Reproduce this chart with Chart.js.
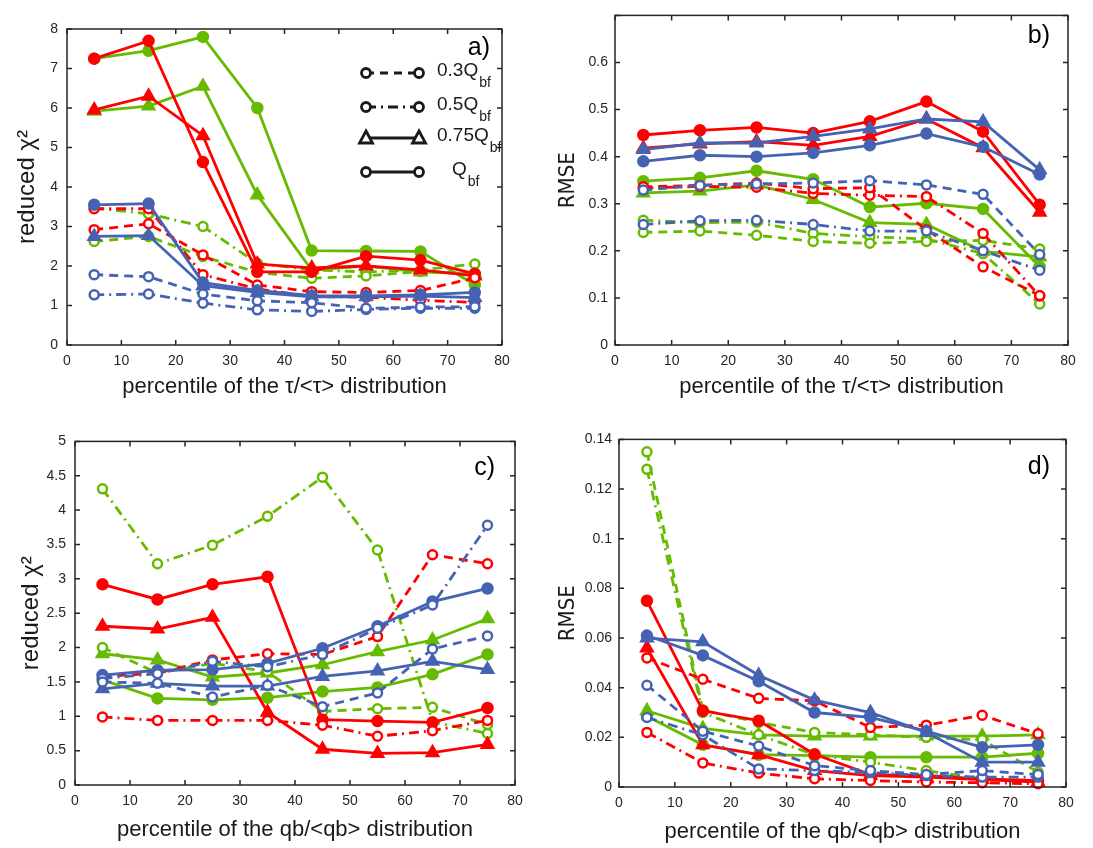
<!DOCTYPE html>
<html>
<head>
<meta charset="utf-8">
<script src="https://cdn.jsdelivr.net/npm/chart.js@4"></script>
<style>
  html, body { margin: 0; padding: 0; background: #fff; }
  #page { position: relative; width: 1093px; height: 848px; overflow: hidden; }
  .panel { position: absolute; }
</style>
</head>
<body>
<div id="page">
  <div class="panel" style="left:0;top:0;width:546px;height:424px"><canvas id="chartA"></canvas></div>
  <div class="panel" style="left:546px;top:0;width:547px;height:424px"><canvas id="chartB"></canvas></div>
  <div class="panel" style="left:0;top:424px;width:546px;height:424px"><canvas id="chartC"></canvas></div>
  <div class="panel" style="left:546px;top:424px;width:547px;height:424px"><canvas id="chartD"></canvas></div>
</div>
<script>
// === Data ===
const X_PCT = [5, 15, 25, 35, 45, 55, 65, 75];
const CASES = ['0.3Q', '0.5Q', '0.75Q', 'Q'];   // rows of every array below

// a) reduced chi2 vs percentile of tau/<tau>
const aRed = [
    [2.92, 3.07, 2.28, 1.52, 1.35, 1.33, 1.38, 1.70],
    [3.45, 3.45, 1.78, 1.42, 1.23, 1.21, 1.13, 1.08],
    [5.95, 6.30, 5.30, 2.05, 1.95, 2.00, 1.90, 1.75],
    [7.25, 7.70, 4.63, 1.85, 1.85, 2.25, 2.15, 1.80]
];
const aBlue = [
    [1.78, 1.73, 1.29, 1.12, 1.07, 0.93, 0.96, 0.97],
    [1.27, 1.29, 1.06, 0.89, 0.85, 0.90, 0.93, 0.93],
    [2.75, 2.77, 1.50, 1.33, 1.22, 1.22, 1.24, 1.20],
    [3.55, 3.58, 1.58, 1.38, 1.25, 1.24, 1.27, 1.33]
];
const aGreen = [
    [2.62, 2.75, 2.24, 1.84, 1.69, 1.75, 1.86, 1.82],
    [3.47, 3.32, 3.00, 2.07, 1.90, 1.85, 1.90, 2.05],
    [5.92, 6.05, 6.55, 3.80, 1.90, 2.00, 1.85, 1.80],
    [7.25, 7.45, 7.80, 6.00, 2.39, 2.38, 2.37, 1.52]
];

// b) RMSE vs percentile of tau/<tau>
const bRed = [
    [0.336, 0.339, 0.344, 0.332, 0.334, 0.245, 0.166, 0.105],
    [0.333, 0.337, 0.335, 0.322, 0.318, 0.315, 0.237, 0.104],
    [0.418, 0.427, 0.432, 0.424, 0.443, 0.480, 0.419, 0.282],
    [0.446, 0.456, 0.462, 0.450, 0.475, 0.517, 0.453, 0.298]
];
const bBlue = [
    [0.329, 0.339, 0.342, 0.344, 0.349, 0.340, 0.320, 0.192],
    [0.256, 0.264, 0.265, 0.256, 0.242, 0.242, 0.200, 0.159],
    [0.415, 0.429, 0.429, 0.443, 0.459, 0.480, 0.474, 0.372],
    [0.390, 0.403, 0.400, 0.408, 0.424, 0.449, 0.421, 0.362]
];
const bGreen = [
    [0.239, 0.242, 0.233, 0.220, 0.216, 0.220, 0.222, 0.204],
    [0.265, 0.260, 0.261, 0.237, 0.230, 0.225, 0.194, 0.087],
    [0.323, 0.327, 0.340, 0.309, 0.260, 0.256, 0.199, 0.187],
    [0.348, 0.355, 0.370, 0.352, 0.293, 0.301, 0.289, 0.166]
];

// c) reduced chi2 vs percentile of qb/<qb>
const cRed = [
    [1.58, 1.63, 1.82, 1.91, 1.90, 2.16, 3.35, 3.22],
    [0.99, 0.94, 0.94, 0.94, 0.87, 0.71, 0.79, 0.94],
    [2.31, 2.27, 2.44, 1.06, 0.52, 0.46, 0.47, 0.59],
    [2.92, 2.70, 2.92, 3.03, 0.95, 0.93, 0.91, 1.12]
];
const cBlue = [
    [1.50, 1.48, 1.28, 1.45, 1.14, 1.34, 1.98, 2.17],
    [1.55, 1.62, 1.80, 1.72, 1.90, 2.28, 2.62, 3.78],
    [1.40, 1.48, 1.44, 1.44, 1.58, 1.66, 1.80, 1.68],
    [1.60, 1.67, 1.68, 1.77, 1.99, 2.31, 2.67, 2.86]
];
const cGreen = [
    [2.00, 1.63, 1.77, 1.65, 1.07, 1.11, 1.13, 0.88],
    [4.31, 3.22, 3.49, 3.91, 4.48, 3.42, 0.92, 0.75],
    [1.91, 1.82, 1.57, 1.63, 1.75, 1.94, 2.11, 2.42],
    [1.53, 1.26, 1.24, 1.27, 1.36, 1.42, 1.61, 1.90]
];

// d) RMSE vs percentile of qb/<qb>
const dRed = [
    [0.052, 0.0434, 0.0357, 0.0347, 0.024, 0.0249, 0.0289, 0.0214],
    [0.022, 0.0097, 0.0056, 0.0033, 0.0026, 0.002, 0.0017, 0.0013],
    [0.056, 0.017, 0.013, 0.0066, 0.0046, 0.004, 0.003, 0.002],
    [0.075, 0.0307, 0.0267, 0.0132, 0.005, 0.0046, 0.0033, 0.0026]
];
const dBlue = [
    [0.041, 0.0225, 0.0165, 0.0086, 0.0066, 0.005, 0.0066, 0.005],
    [0.028, 0.021, 0.0073, 0.0066, 0.0058, 0.0046, 0.004, 0.004],
    [0.060, 0.0585, 0.045, 0.035, 0.030, 0.022, 0.010, 0.010],
    [0.061, 0.053, 0.0426, 0.030, 0.028, 0.0225, 0.016, 0.017]
];
const dGreen = [
    [0.135, 0.031, 0.026, 0.022, 0.021, 0.020, 0.019, 0.006],
    [0.128, 0.030, 0.021, 0.013, 0.010, 0.0066, 0.0033, 0.0026],
    [0.0307, 0.0236, 0.021, 0.0205, 0.0205, 0.0205, 0.0205, 0.021],
    [0.0285, 0.017, 0.013, 0.0126, 0.012, 0.012, 0.012, 0.0136]
];

// === Styles ===
const RED = '#ff0000';
const BLUE = '#4563b2';
const GREEN = '#66bb00';
const AXIS = '#262626';
const FONT = '"Liberation Sans", Arial, Helvetica, sans-serif';
const NARROW = '"Liberation Sans Narrow", "DejaVu Sans Condensed", "Liberation Sans", Arial, sans-serif';

const CASE_STYLE = [
    { dash: [9, 6], point: 'circle', filled: false, r: 4.5 },
    { dash: [10, 5, 2, 5], point: 'circle', filled: false, r: 4.5 },
    { dash: [], point: 'triangle', filled: true, r: 6.5 },
    { dash: [], point: 'circle', filled: true, r: 5 }
];

function buildDatasets(groups) {
    const sets = [];
    groups.forEach(([rows, color]) => {
        rows.forEach((ys, i) => {
            const st = CASE_STYLE[i];
            sets.push({
                label: CASES[i],
                data: ys.map((y, j) => ({ x: X_PCT[j], y })),
                borderColor: color,
                backgroundColor: color,
                pointBorderColor: color,
                pointBackgroundColor: st.filled ? color : '#ffffff',
                pointStyle: st.point,
                pointRadius: st.r,
                pointBorderWidth: 2.5,
                borderWidth: 2.8,
                borderDash: st.dash,
                tension: 0,
                clip: false
            });
        });
    });
    return sets;
}

// box + inward ticks + panel letter
const boxPlugin = {
    id: 'matlabBox',
    afterDraw(chart, args, opts) {
        const { ctx, chartArea: a, scales: { x, y } } = chart;
        ctx.save();
        ctx.strokeStyle = AXIS;
        ctx.lineWidth = 1.5;
        ctx.strokeRect(a.left, a.top, a.right - a.left, a.bottom - a.top);
        ctx.beginPath();
        x.ticks.forEach(t => {
            const px = x.getPixelForValue(t.value);
            ctx.moveTo(px, a.bottom); ctx.lineTo(px, a.bottom - 5);
            ctx.moveTo(px, a.top); ctx.lineTo(px, a.top + 5);
        });
        y.ticks.forEach(t => {
            const py = y.getPixelForValue(t.value);
            ctx.moveTo(a.left, py); ctx.lineTo(a.left + 5, py);
            ctx.moveTo(a.right, py); ctx.lineTo(a.right - 5, py);
        });
        ctx.stroke();
        ctx.fillStyle = '#000';
        ctx.font = '25px ' + FONT;
        ctx.textAlign = 'right';
        ctx.textBaseline = 'middle';
        ctx.fillText(opts.letter, a.right - opts.dx, a.top + opts.dy);
        ctx.restore();
    }
};

// legend drawn by hand (Q with "bf" subscript)
const legendPlugin = {
    id: 'qLegend',
    afterDraw(chart) {
        const ctx = chart.ctx;
        const rows = [
            { y: 73, txt: '0.3Q', dash: [8, 6], mark: 'circle', tx: 437 },
            { y: 107, txt: '0.5Q', dash: [10, 5, 2, 5], mark: 'circle', tx: 437 },
            { y: 138, txt: '0.75Q', dash: [], mark: 'triangle', tx: 437 },
            { y: 172, txt: 'Q', dash: [], mark: 'circle', tx: 452 }
        ];
        ctx.save();
        rows.forEach(r => {
            ctx.strokeStyle = '#1a1a1a';
            ctx.lineWidth = 2.8;
            ctx.setLineDash(r.dash);
            ctx.beginPath();
            ctx.moveTo(366, r.y); ctx.lineTo(419, r.y);
            ctx.stroke();
            ctx.setLineDash([]);
            [366, 419].forEach(mx => {
                ctx.beginPath();
                if (r.mark === 'triangle') {
                    ctx.moveTo(mx, r.y - 7); ctx.lineTo(mx + 6.5, r.y + 5); ctx.lineTo(mx - 6.5, r.y + 5); ctx.closePath();
                } else {
                    ctx.arc(mx, r.y, 4.5, 0, Math.PI * 2);
                }
                ctx.fillStyle = '#fff';
                ctx.fill();
                ctx.stroke();
            });
            ctx.fillStyle = '#1a1a1a';
            ctx.textAlign = 'left';
            ctx.textBaseline = 'middle';
            ctx.font = '19px ' + FONT;
            ctx.fillText(r.txt, r.tx, r.y - 2);
            const w = ctx.measureText(r.txt).width;
            ctx.font = '14px ' + FONT;
            ctx.fillText('bf', r.tx + w + 1, r.y + 10);
        });
        ctx.restore();
    }
};

function makeChart(id, cfg) {
    const ctx = document.getElementById(id).getContext('2d');
    return new Chart(ctx, {
        type: 'line',
        data: { datasets: buildDatasets(cfg.groups) },
        options: {
            responsive: true,
            maintainAspectRatio: false,
            animation: false,
            layout: { padding: { top: cfg.top, right: cfg.right, left: 0, bottom: 0 } },
            scales: {
                x: {
                    type: 'linear',
                    min: 0,
                    max: 80,
                    grid: { display: false, drawTicks: false },
                    border: { display: false },
                    ticks: { stepSize: 10, padding: 8, color: AXIS, font: { family: FONT, size: 14 } },
                    title: {
                        display: true,
                        text: cfg.xTitle,
                        color: '#1a1a1a',
                        font: { family: FONT, size: 22 },
                        padding: { top: 0, bottom: cfg.xTitlePad }
                    },
                    afterFit: s => { s.height = cfg.xHeight; }
                },
                y: {
                    min: 0,
                    max: cfg.yMax,
                    grid: { display: false, drawTicks: false },
                    border: { display: false },
                    ticks: {
                        stepSize: cfg.yStep,
                        padding: cfg.yTickPad,
                        color: AXIS,
                        font: { family: FONT, size: 14 },
                        callback: v => (cfg.hideTop && Math.abs(v - cfg.yMax) < 1e-9) ? '' : String(Math.round(v * 1000) / 1000)
                    },
                    title: {
                        display: true,
                        text: cfg.yTitle,
                        color: '#1a1a1a',
                        font: cfg.yTitleFont,
                        padding: { top: cfg.yTitlePad, bottom: 0 }
                    },
                    afterFit: s => { s.width = cfg.yWidth; }
                }
            },
            plugins: {
                legend: { display: false },
                tooltip: { enabled: false },
                matlabBox: { letter: cfg.letter, dx: cfg.letterDx, dy: cfg.letterDy }
            }
        },
        plugins: cfg.withLegend ? [boxPlugin, legendPlugin] : [boxPlugin]
    });
}

const TAU_TITLE = 'percentile of the \u03c4/<\u03c4> distribution';
const QB_TITLE = 'percentile of the qb/<qb> distribution';
const CHI_FONT = { family: FONT, size: 24 };
const RMSE_FONT = { family: NARROW, size: 22 };

makeChart('chartA', {
    groups: [[aBlue, BLUE], [aRed, RED], [aGreen, GREEN]],
    top: 29, right: 44, yWidth: 67, xHeight: 79,
    yMax: 8, yStep: 1, yTickPad: 9, yTitlePad: 13, xTitlePad: 24,
    yTitle: 'reduced \u03c7\u00b2', yTitleFont: CHI_FONT, xTitle: TAU_TITLE,
    letter: 'a)', letterDx: 12, letterDy: 19, withLegend: true
});
makeChart('chartB', {
    groups: [[bBlue, BLUE], [bRed, RED], [bGreen, GREEN]],
    top: 8, right: 25, yWidth: 69, xHeight: 79,
    yMax: 0.7, yStep: 0.1, yTickPad: 7, yTitlePad: 9, xTitlePad: 24, hideTop: true,
    yTitle: 'RMSE', yTitleFont: RMSE_FONT, xTitle: TAU_TITLE,
    letter: 'b)', letterDx: 18, letterDy: 21
});
makeChart('chartC', {
    groups: [[cBlue, BLUE], [cRed, RED], [cGreen, GREEN]],
    top: 9, right: 31, yWidth: 75, xHeight: 63,
    yMax: 5, yStep: 0.5, yTickPad: 9, yTitlePad: 17, xTitlePad: 5,
    yTitle: 'reduced \u03c7\u00b2', yTitleFont: CHI_FONT, xTitle: QB_TITLE,
    letter: 'c)', letterDx: 20, letterDy: 27
});
makeChart('chartD', {
    groups: [[dBlue, BLUE], [dRed, RED], [dGreen, GREEN]],
    top: 10, right: 27, yWidth: 73, xHeight: 61,
    yMax: 0.14, yStep: 0.02, yTickPad: 7, yTitlePad: 9, xTitlePad: 3,
    yTitle: 'RMSE', yTitleFont: RMSE_FONT, xTitle: QB_TITLE,
    letter: 'd)', letterDx: 16, letterDy: 28
});
</script>
</body>
</html>
